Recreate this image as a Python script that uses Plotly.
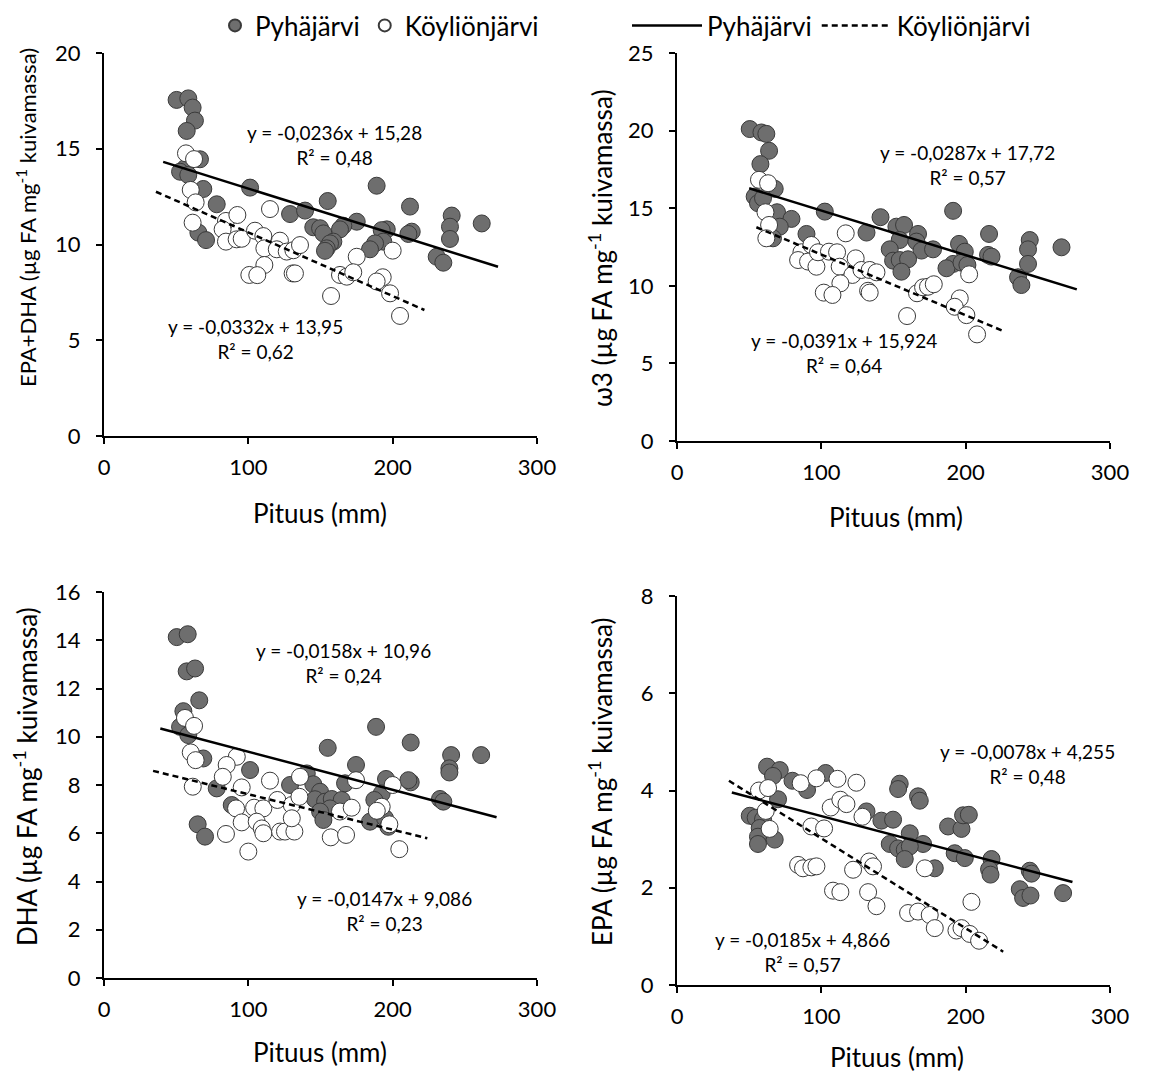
import plotly.graph_objects as go

FONT = "Lato"
GRAY_FILL = "#6e6e6e"
EDGE = "#3a3a3a"

# ---------------- data ----------------
lakes = ["Pyhäjärvi", "Köyliönjärvi"]
x_ticks = [0, 100, 200, 300]

# Panel 1: EPA+DHA
epadha_pyh_x = [50.3, 58.4, 61.4, 63.0, 57.3, 66.5, 56.1, 52.7, 58.4, 68.8, 101.2, 78.1, 65.4, 70.7,
                128.9, 139.3, 155.0, 188.9, 212.0, 240.9, 239.7, 239.7, 261.7, 230.5, 235.1, 213.2,
                210.9, 195.9, 192.4, 193.5, 187.8, 184.3, 175.1, 165.8, 163.5, 145.0, 149.7, 152.0,
                158.9, 156.6, 154.3, 153.1]
epadha_pyh_y = [17.55, 17.63, 17.15, 16.47, 15.93, 14.45, 13.98, 13.80, 13.63, 12.90, 12.97, 12.10,
                10.62, 10.23, 11.59, 11.77, 12.27, 13.07, 11.98, 11.51, 10.93, 10.29, 11.10, 9.36,
                9.05, 10.67, 10.55, 10.79, 10.75, 10.15, 10.06, 9.75, 11.19, 10.98, 10.79, 10.90,
                10.85, 10.58, 10.15, 10.06, 9.80, 9.67]
epadha_koy_x = [56.8, 62.4, 60.1, 63.5, 61.4, 84.5, 92.4, 82.2, 84.5, 91.9, 95.4, 104.6, 110.4, 111.1,
                115.0, 121.9, 119.7, 126.6, 131.2, 135.8, 111.1, 100.7, 106.2, 130.7, 132.3, 175.1,
                163.5, 168.2, 172.7, 193.1, 188.9, 198.2, 157.3, 205.1, 200.0]
epadha_koy_y = [14.76, 14.46, 12.85, 12.20, 11.14, 11.23, 11.54, 10.79, 10.15, 10.27, 10.30, 10.72,
                10.44, 9.80, 11.85, 10.20, 9.75, 9.63, 9.70, 9.97, 8.93, 8.41, 8.40, 8.49, 8.49,
                9.36, 8.41, 8.32, 8.55, 8.29, 8.07, 7.45, 7.31, 6.27, 9.68]

# Panel 2: omega-3
w3_pyh_x = [50.4, 58.5, 61.9, 63.8, 57.8, 67.7, 53.8, 56.1, 59.6, 69.3, 79.3, 71.2, 66.5, 102.4, 89.7,
            131.3, 141.0, 152.0, 157.3, 154.3, 167.0, 165.9, 169.4, 177.4, 147.4, 149.7, 154.3, 160.1,
            155.5, 191.3, 195.4, 199.4, 191.3, 186.7, 197.1, 201.2, 216.2, 215.5, 217.9, 244.4, 243.2,
            243.2, 236.3, 238.6, 266.4]
w3_pyh_y = [20.10, 19.88, 19.79, 18.70, 17.84, 16.25, 15.75, 15.32, 15.65, 14.74, 14.31, 13.81, 13.06,
            14.78, 13.34, 13.43, 14.42, 13.81, 13.92, 12.95, 13.34, 12.85, 12.27, 12.35, 12.35, 11.62,
            11.66, 11.71, 10.91, 14.83, 12.70, 12.20, 11.41, 11.13, 11.49, 11.34, 13.34, 11.99, 11.88,
            12.95, 12.35, 11.41, 10.55, 10.05, 12.48]
w3_koy_x = [56.8, 63.1, 61.3, 63.8, 61.9, 116.9, 86.2, 93.1, 83.9, 90.8, 96.6, 97.7, 105.3, 110.9,
            112.7, 123.8, 121.5, 127.8, 133.5, 138.2, 113.2, 101.7, 107.7, 132.4, 133.5, 159.4, 166.3,
            170.5, 173.9, 177.9, 195.9, 192.4, 200.5, 202.4, 207.9]
w3_koy_y = [16.83, 16.61, 14.74, 13.92, 13.06, 13.38, 12.16, 12.63, 11.66, 11.56, 11.23, 12.16, 12.20,
            12.16, 11.23, 11.77, 10.70, 11.02, 11.02, 10.87, 10.16, 9.56, 9.41, 9.68, 9.56, 8.05, 9.52,
            9.90, 9.94, 10.10, 9.19, 8.65, 8.11, 10.74, 6.87]

# Panel 3: DHA
dha_pyh_x = [50.4, 58.0, 57.3, 63.1, 66.0, 55.0, 52.7, 58.4, 68.8, 101.2, 78.1, 88.5, 64.9, 70.0,
             155.0, 128.9, 140.5, 145.0, 149.7, 146.2, 153.2, 157.8, 164.7, 156.6, 149.7, 152.0,
             174.6, 167.0, 188.5, 195.4, 192.4, 187.3, 184.3, 194.7, 212.5, 212.5, 210.9, 232.8,
             235.1, 240.5, 239.3, 239.3, 261.3, 197.0]
dha_pyh_y = [14.13, 14.25, 12.71, 12.83, 11.51, 11.06, 10.41, 10.07, 9.10, 8.62, 7.86, 7.17, 6.37,
             5.86, 9.54, 8.00, 8.48, 8.03, 7.72, 7.41, 7.31, 7.42, 7.38, 7.03, 6.90, 6.55, 8.83,
             8.07, 10.41, 8.25, 7.65, 7.38, 6.48, 6.62, 9.76, 8.11, 8.20, 7.42, 7.31, 9.24, 8.69,
             8.52, 9.24, 6.27]
dha_koy_x = [56.1, 62.4, 60.1, 63.5, 61.5, 92.0, 85.0, 82.3, 95.4, 91.5, 95.4, 84.5, 100.0, 104.0,
             110.4, 105.8, 109.3, 110.4, 115.0, 120.1, 122.0, 125.4, 131.9, 130.1, 130.1, 135.4,
             135.8, 163.5, 171.6, 157.1, 167.7, 174.6, 200.0, 192.4, 189.0, 197.7, 204.6]
dha_koy_y = [10.78, 10.45, 9.35, 9.03, 7.93, 9.17, 8.83, 8.34, 7.90, 7.03, 6.45, 5.97, 5.24, 7.06,
             7.03, 6.48, 6.20, 6.00, 8.18, 7.38, 6.07, 6.07, 6.07, 7.17, 6.62, 7.51, 8.34, 6.90,
             7.06, 5.83, 5.93, 8.20, 8.00, 7.10, 6.93, 6.37, 5.34]

# Panel 4: EPA
epa_pyh_x = [62.4, 71.2, 66.5, 80.0, 90.1, 103.0, 50.4, 54.5, 70.0, 59.6, 57.3, 56.1, 56.1, 67.7,
             131.3, 141.6, 149.7, 154.3, 153.2, 167.0, 168.2, 161.3, 170.5, 147.4, 153.2, 157.8,
             161.3, 157.8, 178.6, 187.8, 197.1, 198.2, 202.2, 192.4, 199.4, 217.9, 216.2, 217.2,
             244.4, 245.6, 237.5, 239.8, 244.9, 267.5]
epa_pyh_y = [4.49, 4.42, 4.30, 4.20, 4.01, 4.36, 3.48, 3.44, 3.82, 3.41, 3.23, 3.05, 2.90, 2.99, 3.57,
             3.38, 3.40, 4.14, 4.03, 3.88, 3.79, 3.12, 2.90, 2.90, 2.81, 2.78, 2.85, 2.59, 2.40, 3.26,
             3.21, 3.49, 3.50, 2.71, 2.61, 2.59, 2.38, 2.27, 2.35, 2.29, 1.97, 1.79, 1.84, 1.89]
epa_koy_x = [56.8, 63.1, 61.5, 64.2, 85.7, 96.6, 111.2, 124.3, 106.5, 113.2, 117.4, 128.5, 93.1, 101.9,
             83.9, 87.3, 93.1, 96.6, 122.0, 133.1, 135.8, 171.7, 108.1, 113.2, 132.4, 138.2, 204.0,
             160.1, 167.0, 175.1, 178.6, 193.6, 197.1, 202.8, 209.3]
epa_koy_y = [4.00, 4.05, 3.58, 3.21, 4.15, 4.25, 4.24, 4.16, 3.65, 3.81, 3.72, 3.46, 3.26, 3.22, 2.47,
             2.40, 2.42, 2.44, 2.37, 2.54, 2.44, 2.40, 1.94, 1.91, 1.91, 1.62, 1.71, 1.48, 1.51, 1.44,
             1.17, 1.12, 1.17, 1.05, 0.91]

# Linear trend lines (slope, intercept) and their drawn x-extent, per panel
trend_slope_pyh = [-0.0236, -0.0287, -0.0158, -0.0078]
trend_icpt_pyh = [15.28, 17.72, 10.96, 4.255]
trend_span_pyh = [[41, 273], [50, 277], [39, 272], [38, 274]]
trend_slope_koy = [-0.0332, -0.0391, -0.0147, -0.0185]
trend_icpt_koy = [13.95, 15.924, 9.086, 4.866]
trend_span_koy = [[36, 222], [55, 226], [34, 224], [36, 226]]

eq_text_pyh = ["y = -0,0236x + 15,28<br>R² = 0,48", "y = -0,0287x + 17,72<br>R² = 0,57",
               "y = -0,0158x + 10,96<br>R² = 0,24", "y = -0,0078x + 4,255<br>R² = 0,48"]
eq_text_koy = ["y = -0,0332x + 13,95<br>R² = 0,62", "y = -0,0391x + 15,924<br>R² = 0,64",
               "y = -0,0147x + 9,086<br>R² = 0,23", "y = -0,0185x + 4,866<br>R² = 0,57"]

y_titles = ["EPA+DHA (µg FA mg<sup>-1</sup> kuivamassa)", "ω3 (µg FA mg<sup>-1</sup> kuivamassa)",
            "DHA (µg FA mg<sup>-1</sup> kuivamassa)", "EPA (µg FA mg<sup>-1</sup> kuivamassa)"]
x_title = "Pituus (mm)"
y_max = [20, 25, 16, 8]
y_dtick = [5, 5, 2, 2]

panels = [
    (epadha_pyh_x, epadha_pyh_y, epadha_koy_x, epadha_koy_y),
    (w3_pyh_x, w3_pyh_y, w3_koy_x, w3_koy_y),
    (dha_pyh_x, dha_pyh_y, dha_koy_x, dha_koy_y),
    (epa_pyh_x, epa_pyh_y, epa_koy_x, epa_koy_y),
]

# ---------------- layout geometry (pixels -> paper) ----------------
W, H = 1149, 1073
plot_px = [  # (left, right, top, bottom) in pixels
    (104, 537, 53, 436),
    (677, 1110, 53, 441),
    (104, 537, 592, 978),
    (677, 1110, 596, 985),
]
eq_pos_pyh = [(160, 15.17), (201, 17.76), (166, 13.07), (243, 4.55)]
eq_pos_koy = [(105, 5.04), (116, 5.70), (194, 2.77), (87, 0.68)]
ytitle_px = [(26, 218), (600, 248), (25, 777), (600, 782)]
ytitle_size = [22, 26, 26, 26]
xtitle_px = [(320, 513), (896, 517), (320, 1052), (897, 1057)]

fig = go.Figure()

for i, (px_, py_, kx, ky) in enumerate(panels):
    xa = "x" if i == 0 else f"x{i+1}"
    ya = "y" if i == 0 else f"y{i+1}"
    fig.add_trace(go.Scatter(
        x=px_, y=py_, mode="markers", xaxis=xa, yaxis=ya, name=lakes[0],
        legend="legend", showlegend=(i == 0),
        marker=dict(size=17, color=GRAY_FILL, line=dict(color=EDGE, width=1))))
    fig.add_trace(go.Scatter(
        x=kx, y=ky, mode="markers", xaxis=xa, yaxis=ya, name=lakes[1],
        legend="legend", showlegend=(i == 0),
        marker=dict(size=17, color="white", line=dict(color=EDGE, width=1))))
    # trend lines
    xs = trend_span_pyh[i]
    fig.add_trace(go.Scatter(
        x=xs, y=[trend_icpt_pyh[i] + trend_slope_pyh[i] * v for v in xs], mode="lines",
        xaxis=xa, yaxis=ya, name=lakes[0], legend="legend2", showlegend=(i == 0),
        line=dict(color="black", width=2.5)))
    xs = trend_span_koy[i]
    fig.add_trace(go.Scatter(
        x=xs, y=[trend_icpt_koy[i] + trend_slope_koy[i] * v for v in xs], mode="lines",
        xaxis=xa, yaxis=ya, name=lakes[1], legend="legend2", showlegend=(i == 0),
        line=dict(color="black", width=2.5, dash="6px,4px")))

    l, r, t, b = plot_px[i]
    sfx = "" if i == 0 else str(i + 1)
    axis_common = dict(showline=True, linecolor="black", linewidth=2, ticks="outside",
                       ticklen=6, tickwidth=2, tickcolor="black", showgrid=False, zeroline=False,
                       automargin=False,
                       tickfont=dict(family=FONT, size=22, color="black"))
    fig.layout["xaxis" + sfx] = dict(domain=[l / W, r / W], range=[0, 300], tickvals=x_ticks,
                                      anchor=ya, ticklabelstandoff=5, **axis_common)
    fig.layout["yaxis" + sfx] = dict(domain=[1 - b / H, 1 - t / H], range=[0, y_max[i]],
                                      dtick=y_dtick[i], anchor=xa, ticklabelstandoff=11,
                                      **axis_common)

    fig.add_annotation(x=eq_pos_pyh[i][0], y=eq_pos_pyh[i][1], xref=xa, yref=ya, text=eq_text_pyh[i],
                       showarrow=False, align="center", xanchor="center", yanchor="middle",
                       font=dict(family=FONT, size=19, color="black"))
    fig.add_annotation(x=eq_pos_koy[i][0], y=eq_pos_koy[i][1], xref=xa, yref=ya, text=eq_text_koy[i],
                       showarrow=False, align="center", xanchor="center", yanchor="middle",
                       font=dict(family=FONT, size=19, color="black"))
    fig.add_annotation(x=ytitle_px[i][0] / W, y=1 - ytitle_px[i][1] / H, xref="paper", yref="paper",
                       text=y_titles[i], textangle=-90, showarrow=False,
                       xanchor="center", yanchor="middle",
                       font=dict(family=FONT, size=ytitle_size[i], color="black"))
    fig.add_annotation(x=xtitle_px[i][0] / W, y=1 - xtitle_px[i][1] / H, xref="paper", yref="paper",
                       text=x_title, showarrow=False, xanchor="center", yanchor="middle",
                       font=dict(family=FONT, size=26, color="black"))

fig.update_layout(
    width=W, height=H, margin=dict(l=0, r=0, t=0, b=0, autoexpand=False),
    paper_bgcolor="white", plot_bgcolor="white",
    font=dict(family=FONT, size=22, color="black"),
    legend=dict(orientation="h", x=215 / W, y=1 - 2 / H, xanchor="left", yanchor="top",
                font=dict(family=FONT, size=26, color="black"), itemsizing="constant",
                bgcolor="rgba(0,0,0,0)", tracegroupgap=0),
    legend2=dict(orientation="h", x=627 / W, y=1 - 2 / H, xanchor="left", yanchor="top",
                 font=dict(family=FONT, size=26, color="black"), itemwidth=70,
                 bgcolor="rgba(0,0,0,0)"),
)

fig.write_html("out.html", config={"displayModeBar": False},
               post_script="document.body.style.margin='0';")
